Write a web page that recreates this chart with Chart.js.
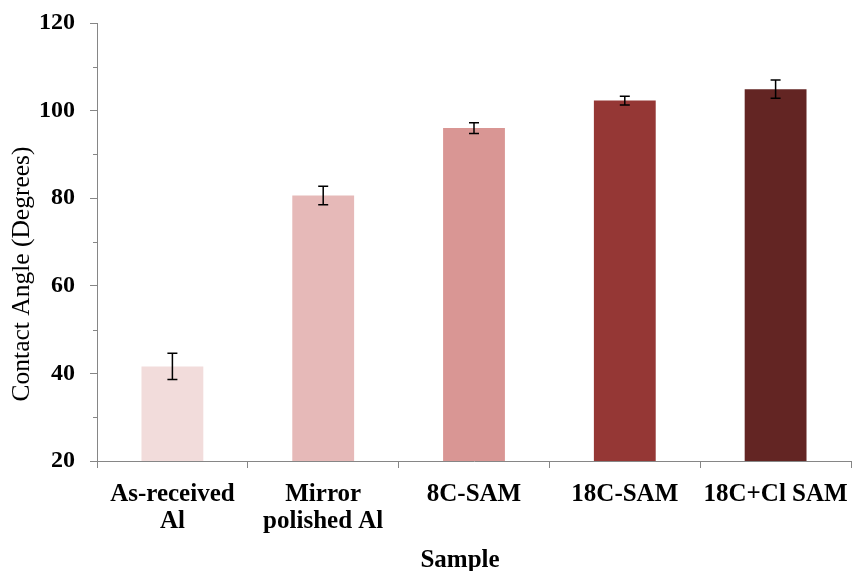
<!DOCTYPE html>
<html>
<head>
<meta charset="utf-8">
<script src="https://cdn.jsdelivr.net/npm/chart.js@4/dist/chart.umd.min.js"></script>
<style>
  html, body { margin: 0; padding: 0; background: #fff; }
  .chart-box { width: 852px; height: 571px; }
</style>
</head>
<body>
<div class="chart-box"><canvas id="angleChart"></canvas></div>
<script>
const samples = [['As-received', 'Al'], ['Mirror', 'polished Al'], '8C-SAM', '18C-SAM', '18C+Cl SAM'];
const contactAngle = [41.6, 80.6, 96.0, 102.3, 104.9];
const angleError = [3.0, 2.1, 1.2, 1.0, 2.1];
const majorTicks = [20, 40, 60, 80, 100, 120];
const xTitle = 'Sample';
const yTitle = 'Contact Angle (Degrees)';

const barColors = ['#F2DCDB', '#E6B9B8', '#D99694', '#953735', '#632523'];
const axisGray = '#868686';
const serif = "'Liberation Serif', 'Times New Roman', serif";

// error bars, short minor ticks on the y axis, and the two axis titles
const extras = {
  id: 'extras',
  afterDatasetsDraw(chart) {
    const ctx = chart.ctx;
    const y = chart.scales.y;
    const bars = chart.getDatasetMeta(0).data;
    ctx.save();
    ctx.strokeStyle = '#000';
    ctx.lineWidth = 1.5;
    bars.forEach((bar, i) => {
      const top = y.getPixelForValue(contactAngle[i] + angleError[i]);
      const bottom = y.getPixelForValue(contactAngle[i] - angleError[i]);
      ctx.beginPath();
      ctx.moveTo(bar.x, top);
      ctx.lineTo(bar.x, bottom);
      ctx.moveTo(bar.x - 5, top);
      ctx.lineTo(bar.x + 5, top);
      ctx.moveTo(bar.x - 5, bottom);
      ctx.lineTo(bar.x + 5, bottom);
      ctx.stroke();
    });
    ctx.strokeStyle = axisGray;
    ctx.lineWidth = 1;
    for (let v = 30; v < 120; v += 20) {
      const py = Math.round(y.getPixelForValue(v)) + 0.5;
      ctx.beginPath();
      ctx.moveTo(y.right - 4, py);
      ctx.lineTo(y.right, py);
      ctx.stroke();
    }

    ctx.fillStyle = '#000';
    ctx.textAlign = 'center';
    ctx.textBaseline = 'middle';
    ctx.font = 'bold 25px ' + serif;
    ctx.fillText(xTitle, 460, 561);

    ctx.translate(22, 274);
    ctx.rotate(-Math.PI / 2);
    ctx.font = '25.5px ' + serif;
    ctx.fillText(yTitle, 0, 0);
    ctx.restore();
  }
};

Chart.defaults.font.family = serif;
Chart.defaults.color = '#000';

new Chart(document.getElementById('angleChart'), {
  type: 'bar',
  data: {
    labels: samples,
    datasets: [{
      data: contactAngle,
      backgroundColor: barColors,
      borderWidth: 0,
      barPercentage: 0.41,
      categoryPercentage: 1
    }]
  },
  options: {
    responsive: true,
    maintainAspectRatio: false,
    animation: false,
    layout: { autoPadding: false, padding: { top: 23, right: 1, left: 0, bottom: 0 } },
    plugins: {
      legend: { display: false },
      tooltip: { enabled: false }
    },
    scales: {
      x: {
        afterFit: (axis) => {
          axis.height = 110;
          axis.paddingLeft = 0;
          axis.paddingRight = 0;
        },
        grid: {
          drawOnChartArea: false,
          drawTicks: true,
          tickLength: 7,
          color: axisGray,
          offset: true
        },
        border: { color: axisGray, width: 1 },
        ticks: {
          font: { size: 25, weight: 'bold', lineHeight: 1.08 },
          padding: 13,
          maxRotation: 0,
          autoSkip: false
        }
      },
      y: {
        min: 20,
        max: 120,
        afterFit: (axis) => {
          axis.width = 97;
          axis.paddingTop = 0;
          axis.paddingBottom = 0;
        },
        afterBuildTicks: (axis) => { axis.ticks = majorTicks.map((v) => ({ value: v })); },
        grid: {
          drawOnChartArea: false,
          drawTicks: true,
          tickLength: 7,
          color: axisGray
        },
        border: { color: axisGray, width: 1 },
        ticks: {
          font: { size: 24, weight: 'bold' },
          padding: 15
        }
      }
    }
  },
  plugins: [extras]
});
</script>
</body>
</html>
